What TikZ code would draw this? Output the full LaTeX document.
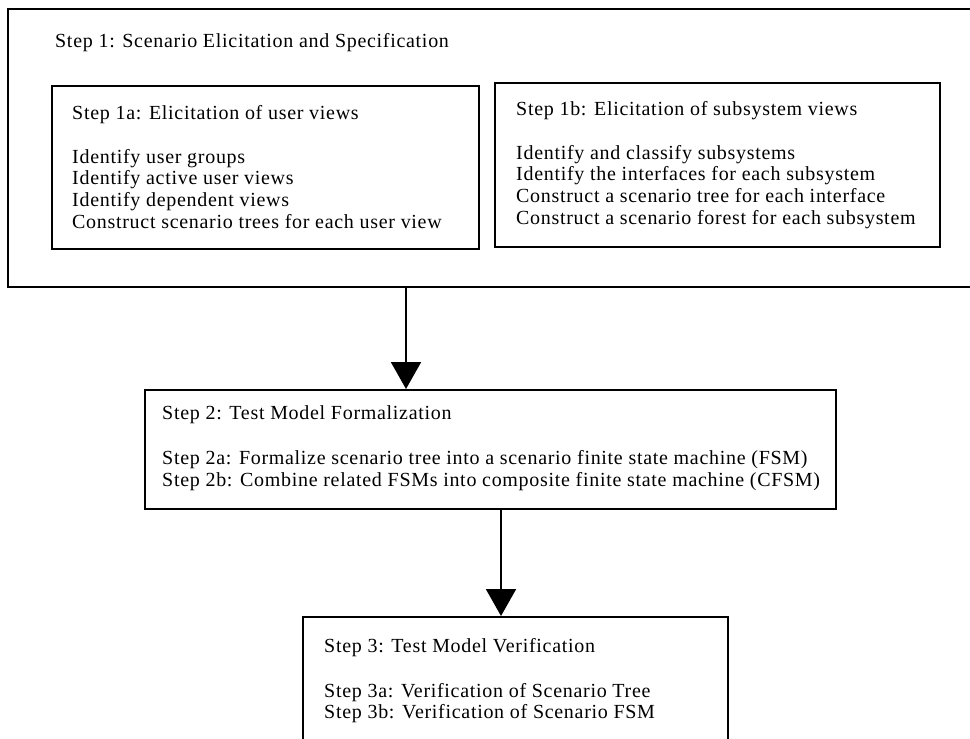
\documentclass[tikz,border=0pt]{standalone}
\usepackage{fontspec}
\setmainfont{Liberation Serif}
\usetikzlibrary{arrows.meta}
\tikzset{
  boxnode/.style={draw, line width=2pt, rectangle, inner sep=0pt},
  txt/.style={anchor=base west, inner sep=0pt, font=\fontsize{20}{22}\selectfont\addfontfeatures{LetterSpace=3.5}},
  arr/.style={line width=2pt, -{Triangle[width=30pt,length=27pt]}}
}
\begin{document}
\begin{tikzpicture}[x=1pt,y=-1pt]
\useasboundingbox (0,0) rectangle (970,739);
% boxes
\node[boxnode, minimum width=967pt, minimum height=278pt] (outer) at (491.5,148) {};
\node[boxnode, minimum width=427pt, minimum height=163pt] (b1a) at (265.5,167.5) {};
\node[boxnode, minimum width=445pt, minimum height=164pt] (b1b) at (717.5,165) {};
\node[boxnode, minimum width=691pt, minimum height=119pt] (b2) at (490.5,449.5) {};
\node[boxnode, minimum width=425pt, minimum height=143pt] (b3) at (515.5,688.5) {};
% texts
\node[txt] (t1) at (55,47) {Step 1: Scenario Elicitation and Specification};
\node[txt] (t1a) at (72,119) {Step 1a: Elicitation of user views};
\node[txt] (t1a1) at (72,163) {Identify user groups};
\node[txt] (t1a2) at (72,184.5) {Identify active user views};
\node[txt] (t1a3) at (72,206) {Identify dependent views};
\node[txt] (t1a4) at (72,228) {Construct scenario trees for each user view};
\node[txt] (t1b) at (516,115.5) {Step 1b: Elicitation of subsystem views};
\node[txt] (t1b1) at (516,159) {Identify and classify subsystems};
\node[txt] (t1b2) at (516,180.5) {Identify the interfaces for each subsystem};
\node[txt] (t1b3) at (516,202.5) {Construct a scenario tree for each interface};
\node[txt] (t1b4) at (516,224.5) {Construct a scenario forest for each subsystem};
\node[txt] (t2) at (162,419) {Step 2: Test Model Formalization};
\node[txt] (t2a) at (162,464) {Step 2a: Formalize scenario tree into a scenario finite state machine (FSM)};
\node[txt] (t2b) at (162,486) {Step 2b: Combine related FSMs into composite finite state machine (CFSM)};
\node[txt] (t3) at (324,652) {Step 3: Test Model Verification};
\node[txt] (t3a) at (324,697) {Step 3a: Verification of Scenario Tree};
\node[txt] (t3b) at (324,718.5) {Step 3b: Verification of Scenario FSM};
% arrows
\coordinate (xa) at (406,0);
\coordinate (xb) at (501,0);
\draw[arr] (outer.south -| xa) -- (b2.north -| xa);
\draw[arr] (b2.south -| xb) -- (b3.north -| xb);
\end{tikzpicture}
\end{document}
